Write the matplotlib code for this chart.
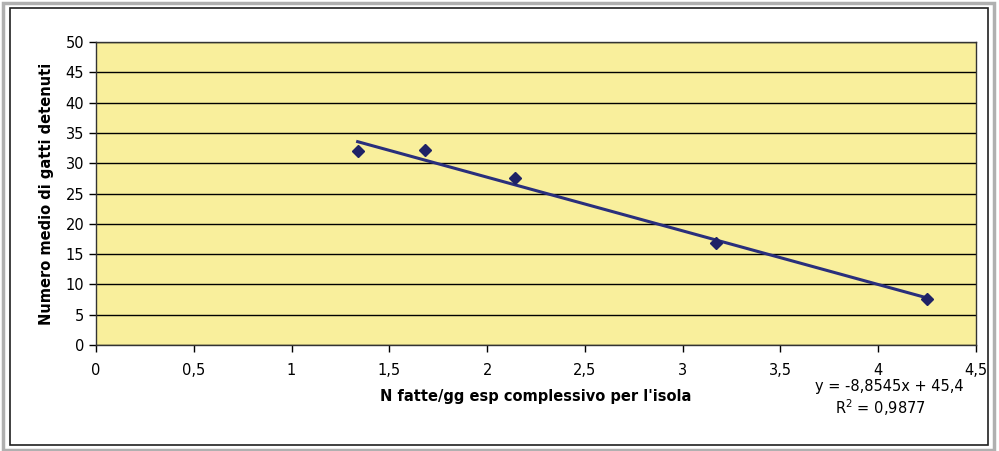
import matplotlib
matplotlib.use("Agg")
import matplotlib.pyplot as plt
import numpy as np
from matplotlib.patches import Rectangle
from matplotlib.ticker import FuncFormatter

plt.rcParams['font.family'] = ['DejaVu Sans']

x_vals = [1.338, 1.68, 2.142, 3.17, 4.25]
y_vals = [32.05, 32.2, 27.5, 16.9, 7.6]
slope = -8.8545
intercept = 45.4
r2_text = "R$^2$ = 0,9877"
eq_text = "y = -8,8545x + 45,4"
xlabel = "N fatte/gg esp complessivo per l'isola"
ylabel = "Numero medio di gatti detenuti"

fig = plt.figure(figsize=(9.99, 4.51), dpi=100)
W, H = 999, 451
ax = fig.add_axes([96 / W, 1 - 345 / H, (976 - 96) / W, (345 - 42) / H])

# outer frames
fig.patches.append(Rectangle((3 / W, 1 / H), 991 / W, 447 / H, transform=fig.transFigure,
                             fill=False, edgecolor='#b0b0b0', linewidth=2.5))
fig.patches.append(Rectangle((10 / W, 6 / H), 978 / W, 437 / H, transform=fig.transFigure,
                             fill=False, edgecolor='#202020', linewidth=1.2))

ax.set_facecolor('#F9EF9C')
ax.set_xlim(0, 4.5)
ax.set_ylim(0, 50)
ax.set_xticks(np.arange(0, 4.51, 0.5))
ax.set_yticks(np.arange(0, 51, 5))
fmt = FuncFormatter(lambda v, p: ('%g' % v).replace('.', ','))
ax.xaxis.set_major_formatter(fmt)
ax.yaxis.set_major_formatter(fmt)
ax.grid(axis='y', color='black', linewidth=1.0)
ax.set_axisbelow(True)
ax.tick_params(direction='out', length=5, width=1, labelsize=10.5, colors='black')
ax.tick_params(axis='x', pad=8)
for s in ax.spines.values():
    s.set_linewidth(1.0)
    s.set_color('#333333')

xs = np.array([min(x_vals), max(x_vals)])
ax.plot(xs, slope * xs + intercept, color='#2A2F7C', linewidth=2.2, zorder=3)
ax.plot(x_vals, y_vals, linestyle='none', marker='D', markersize=6.5,
        color='#1F2266', zorder=4)

ax.set_xlabel(xlabel, fontsize=10.5, fontweight='bold', labelpad=8)
ax.set_ylabel(ylabel, fontsize=10.5, fontweight='bold', labelpad=8)

fig.text(889 / W, 1 - 386 / H, eq_text, fontsize=10.5, ha='center', va='center')
fig.text(880 / W, 1 - 408 / H, r2_text, fontsize=10.5, ha='center', va='center')

fig.savefig('out.png', dpi=100)
